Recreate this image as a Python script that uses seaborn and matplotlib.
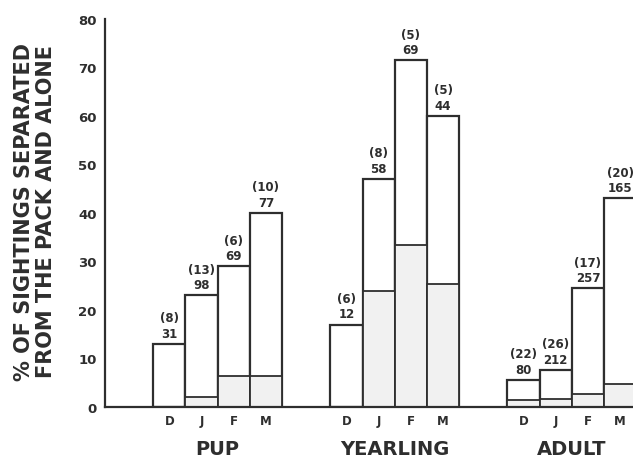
import numpy as np
import pandas as pd
import matplotlib
matplotlib.use("Agg")
import matplotlib.pyplot as plt
import seaborn as sns

sns.set_style("white")
plt.rcParams['font.family'] = ['DejaVu Sans']
plt.rcParams['font.weight'] = 'bold'

# values
groups = ["PUP", "YEARLING", "ADULT"]
months = ["D", "J", "F", "M"]
pct_total = [13, 23, 29, 40,      # pup
             17, 47, 71.5, 60,    # yearling
             5.6, 7.6, 24.5, 43]  # adult
pct_inner = [0, 2, 6.3, 6.3,
             0, 24, 33.5, 25.4,
             1.5, 1.6, 2.7, 4.7]
n_wolves = [8, 13, 6, 10, 6, 8, 5, 5, 22, 26, 17, 20]
n_sight = [31, 98, 69, 77, 12, 58, 69, 44, 80, 212, 257, 165]

INK = "#2e2e2e"
GROUP_STEP = 5.5  # four bars plus a gap of 1.5 bar widths

pos = [g * GROUP_STEP + m for g in range(len(groups)) for m in range(len(months))]
df = pd.DataFrame({
    "pos": pos,
    "month": months * len(groups),
    "total": pct_total,
    "inner": pct_inner,
})

fig = plt.figure(figsize=(6.33, 4.64), dpi=100)
ax = fig.add_axes([105 / 633, 56 / 464, 528 / 633, 388 / 464])

sns.barplot(data=df, x="pos", y="total", native_scale=True, width=1,
            color="white", saturation=1, edgecolor=INK, linewidth=1.6,
            errorbar=None, ax=ax)
sns.barplot(data=df, x="pos", y="inner", native_scale=True, width=1,
            color="#f1f1f1", saturation=1, edgecolor=INK, linewidth=1.3,
            errorbar=None, ax=ax)

ax.set_xlim(-2, 14.4)
ax.set_ylim(0, 80)
ax.set_yticks(np.arange(0, 81, 10))
ax.set_xticks(df["pos"])
ax.set_xticklabels(df["month"])
ax.tick_params(axis="x", length=0, pad=5, labelsize=8.5, labelcolor=INK)
ax.tick_params(axis="y", direction="in", length=5, width=1.3, color=INK,
               pad=6, labelsize=9.5, labelcolor=INK)
ax.set_xlabel("")
ax.set_ylabel("")
for s in ["top", "right"]:
    ax.spines[s].set_visible(False)
for s in ["left", "bottom"]:
    ax.spines[s].set_color(INK)
    ax.spines[s].set_linewidth(1.6)

# sample sizes above each bar
for p, t, n, s in zip(df["pos"], df["total"], n_wolves, n_sight):
    ax.annotate(f"({n})\n{s}", xy=(p, t), xytext=(0, 3),
                textcoords="offset points", ha="center", va="bottom",
                fontsize=8.5, linespacing=1.25, color=INK)

# group names under the month labels
for g, name in enumerate(groups):
    ax.annotate(name, xy=(g * GROUP_STEP + 1.5, 0), xycoords=("data", "axes fraction"),
                xytext=(0, -30), textcoords="offset points", ha="center", va="center",
                fontsize=14, color=INK)

fig.text(35 / 633, 1 - 212 / 464,
         "% OF SIGHTINGS SEPARATED\nFROM THE PACK AND ALONE",
         rotation=90, ha="center", va="center", multialignment="center",
         fontsize=15, linespacing=1.1, color=INK)

fig.savefig("out.png", dpi=100)
